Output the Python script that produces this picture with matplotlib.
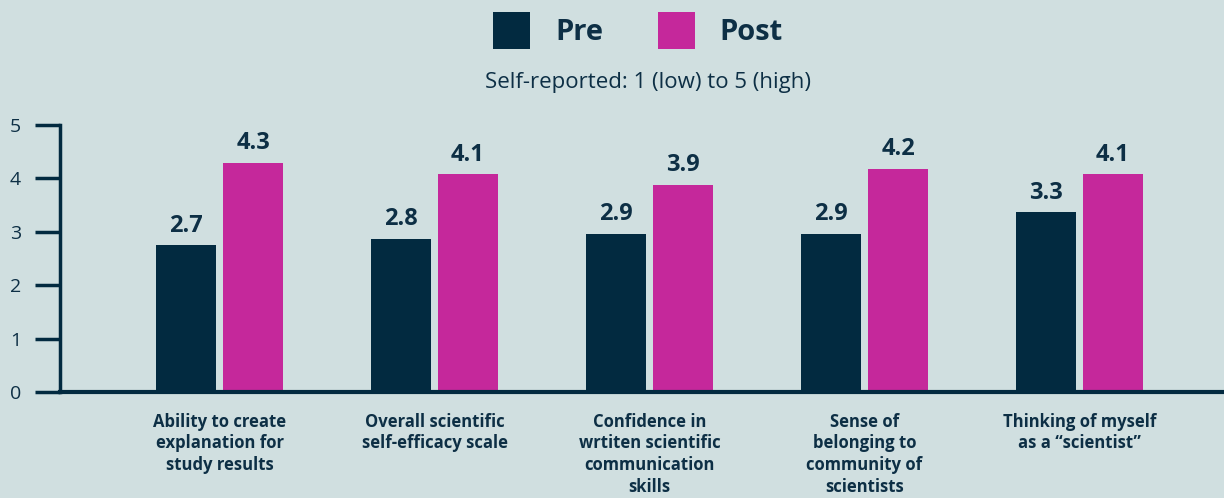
import matplotlib
matplotlib.use("Agg")
import matplotlib.pyplot as plt
import numpy as np
from matplotlib.patches import Rectangle

categories = [
    "Ability to create\nexplanation for\nstudy results",
    "Overall scientific\nself-efficacy scale",
    "Confidence in\nwrtiten scientific\ncommunication\nskills",
    "Sense of\nbelonging to\ncommunity of\nscientists",
    "Thinking of myself\nas a \u201cscientist\u201d",
]
pre_values = [2.75, 2.87, 2.96, 2.96, 3.37]
post_values = [4.29, 4.08, 3.88, 4.18, 4.08]
pre_labels = ["2.7", "2.8", "2.9", "2.9", "3.3"]
post_labels = ["4.3", "4.1", "3.9", "4.2", "4.1"]
series_names = ["Pre", "Post"]
subtitle = "Self-reported: 1 (low) to 5 (high)"
yticks = [0, 1, 2, 3, 4, 5]

BG = "#d0dfe0"
NAVY = "#022a40"
MAGENTA = "#c5289b"
TEXT = "#0d2f45"
FONT = ['Open Sans', 'DejaVu Sans']

plt.rcParams['font.family'] = FONT

W, H = 1224, 498
fig = plt.figure(figsize=(W / 100, H / 100), dpi=100, facecolor=BG)
ax_left, ax_right = 60, 1224
ax_top, ax_bottom = 125, 392
ax = fig.add_axes([ax_left / W, 1 - ax_bottom / H, (ax_right - ax_left) / W, (ax_bottom - ax_top) / H])
ax.set_facecolor(BG)

unit = 215.0
x = np.arange(len(categories))
bw = 60 / unit
off = 33.5 / unit
ax.bar(x - off, pre_values, width=bw, color=NAVY, zorder=2)
ax.bar(x + off, post_values, width=bw, color=MAGENTA, zorder=2)

for xi, v, lab in zip(x - off, pre_values, pre_labels):
    ax.text(xi, v + 0.14, lab, ha="center", va="bottom", fontsize=17, fontweight="bold", color=TEXT)
for xi, v, lab in zip(x + off, post_values, post_labels):
    ax.text(xi, v + 0.14, lab, ha="center", va="bottom", fontsize=17, fontweight="bold", color=TEXT)

ax.set_xlim((ax_left - 219.5) / unit, (ax_right - 219.5) / unit)
ax.set_ylim(0, 5)
ax.set_yticks(yticks)
ax.set_yticklabels([str(t) for t in yticks], fontsize=14, color=TEXT)
ax.tick_params(axis="y", length=18, width=2.5, color=NAVY, pad=10)
ax.set_xticks(x)
ax.set_xticklabels(categories, fontsize=12, fontweight="bold", color=TEXT, linespacing=1.26)
ax.tick_params(axis="x", length=0, pad=15)
for s in ["top", "right"]:
    ax.spines[s].set_visible(False)
ax.spines["left"].set_linewidth(2.5)
ax.spines["left"].set_color(NAVY)
ax.spines["bottom"].set_linewidth(3)
ax.spines["bottom"].set_color(NAVY)

# legend (drawn in figure pixel coordinates)
legend_items = [(493, 555, NAVY, series_names[0]), (658, 719, MAGENTA, series_names[1])]
for sq_x, tx, col, name in legend_items:
    fig.patches.append(Rectangle((sq_x / W, 1 - 49 / H), 37 / W, 37 / H,
                                 transform=fig.transFigure, facecolor=col, edgecolor="none"))
    fig.text(tx / W, 1 - 33 / H, name, ha="left", va="center", fontsize=21,
             fontweight="bold", color=TEXT)

fig.text(648 / W, 1 - 82 / H, subtitle, ha="center", va="center", fontsize=16, color=TEXT)

fig.savefig("out.png", dpi=100, facecolor=BG)
